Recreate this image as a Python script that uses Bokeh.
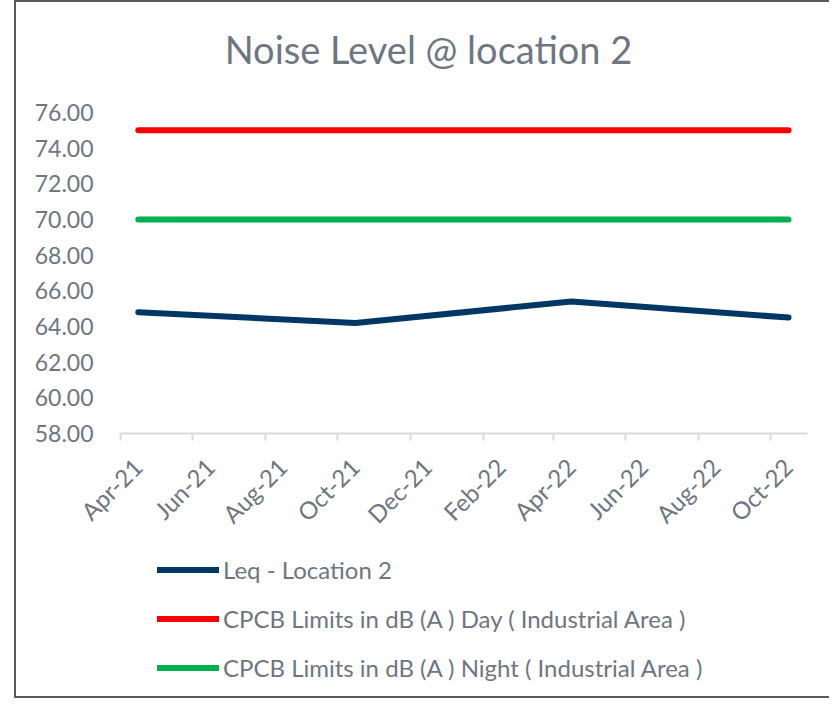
import math
import datetime as dt
from bokeh.plotting import figure
from bokeh.layouts import column
from bokeh.models import (Range1d, FixedTicker, Legend, LegendItem, Label,
                          NumeralTickFormatter, DatetimeAxis)
from bokeh.embed import file_html
from bokeh.resources import INLINE

# ---- data ----
dates = ["2021-04-16", "2021-10-16", "2022-04-16", "2022-10-16"]
leq = [64.8, 64.2, 65.4, 64.5]
day_limit = [75.0, 75.0, 75.0, 75.0]
night_limit = [70.0, 70.0, 70.0, 70.0]
series_names = ["Leq - Location 2",
                "CPCB Limits in dB (A ) Day ( Industrial Area )",
                "CPCB Limits in dB (A ) Night ( Industrial Area )"]
tick_dates = ["2021-04-01", "2021-06-01", "2021-08-01", "2021-10-01", "2021-12-01",
              "2022-02-01", "2022-04-01", "2022-06-01", "2022-08-01", "2022-10-01"]
tick_labels = ["Apr-21", "Jun-21", "Aug-21", "Oct-21", "Dec-21",
               "Feb-22", "Apr-22", "Jun-22", "Aug-22", "Oct-22"]
x_start, x_end = "2021-04-01", "2022-11-01"
y_ticks = [58, 60, 62, 64, 66, 68, 70, 72, 74, 76]
title_text = "Noise Level @ location 2"

FONT = "Lato"
TXT = "#6e7681"
COLORS = ["#003764", "#ff0000", "#00b050"]
LABEL_SHIFT_MS = 14.5 * 24 * 3600 * 1000.0  # rotated labels sit right of their tick
W = 813


def to_dt(s):
    return dt.datetime.strptime(s, "%Y-%m-%d")


def to_ms(s):
    return (to_dt(s) - dt.datetime(1970, 1, 1)).total_seconds() * 1000.0


def blank(height):
    f = figure(width=W, height=height, output_backend="svg", toolbar_location=None,
               x_range=Range1d(0, 1), y_range=Range1d(0, 1),
               x_axis_location=None, y_axis_location=None, min_border=0)
    f.outline_line_color = None
    f.grid.visible = False
    f.border_fill_color = "white"
    return f


xs = [to_dt(d) for d in dates]

# ---- title strip ----
p_top = blank(90)
p_top.add_layout(Label(x=308, y=44, x_units="screen", y_units="screen",
                       text=title_text, text_align="center", text_baseline="middle",
                       text_font=FONT, text_font_size="38px", text_color=TXT))

# ---- main chart ----
p = figure(width=W, height=450, x_axis_type="datetime",
           output_backend="svg", toolbar_location=None,
           x_range=Range1d(to_dt(x_start), to_dt(x_end)),
           y_range=Range1d(y_ticks[0], y_ticks[-1]),
           min_border_left=104, min_border_right=22,
           min_border_top=20, min_border_bottom=109)
p.outline_line_color = None
p.grid.visible = False
p.background_fill_color = "white"
p.border_fill_color = "white"

p.yaxis.ticker = FixedTicker(ticks=y_ticks)
p.yaxis.formatter = NumeralTickFormatter(format="0.00")
p.yaxis.axis_line_color = None
p.yaxis.major_tick_line_color = None
p.yaxis.minor_tick_line_color = None
p.yaxis.major_label_text_font = FONT
p.yaxis.major_label_text_font_size = "23px"
p.yaxis.major_label_text_color = TXT
p.yaxis.major_label_standoff = 21

tick_ms = [to_ms(d) for d in tick_dates]
p.xaxis.ticker = FixedTicker(ticks=tick_ms)
p.xaxis.major_label_overrides = {m: "" for m in tick_ms}
p.xaxis.axis_line_color = "#d9d9d9"
p.xaxis.axis_line_width = 2
p.xaxis.major_tick_line_color = "#d9d9d9"
p.xaxis.major_tick_line_width = 2
p.xaxis.major_tick_in = 0
p.xaxis.major_tick_out = 7
p.xaxis.minor_tick_line_color = None
p.xaxis.major_label_standoff = 0
p.xaxis.major_label_text_font_size = "1px"

lab_ms = [m + LABEL_SHIFT_MS for m in tick_ms]
lab_axis = DatetimeAxis(ticker=FixedTicker(ticks=lab_ms),
                        major_label_overrides={m: lab for m, lab in zip(lab_ms, tick_labels)},
                        axis_line_color=None, major_tick_line_color=None,
                        minor_tick_line_color=None,
                        major_label_orientation=math.pi / 4,
                        major_label_text_font=FONT,
                        major_label_text_font_size="24px",
                        major_label_text_color=TXT,
                        major_label_standoff=16)
p.add_layout(lab_axis, "below")

line_kw = dict(line_width=6, line_cap="round", line_join="round")
p.line(xs, leq, line_color=COLORS[0], **line_kw)
p.line(xs, day_limit, line_color=COLORS[1], **line_kw)
p.line(xs, night_limit, line_color=COLORS[2], **line_kw)

# ---- legend strip (legend handles are off-range placeholders) ----
p_bot = blank(154)
handles = [p_bot.line(x=[2, 3], y=[2, 2], line_color=c, **line_kw) for c in COLORS]
legend = Legend(items=[LegendItem(label=n, renderers=[h]) for n, h in zip(series_names, handles)],
                location=(37, 14), orientation="vertical",
                glyph_width=62, glyph_height=29, label_height=29,
                label_standoff=4, spacing=20, padding=0, margin=0,
                label_text_font=FONT, label_text_font_size="24px",
                label_text_color=TXT, border_line_color=None,
                background_fill_alpha=0)
p_bot.add_layout(legend, "center")

layout = column(p_top, p, p_bot, spacing=0)
layout.margin = (0, 0, 0, 14)
layout.styles = {"border": "2px solid #595959", "border-right": "none"}

open("out.html", "w").write(file_html(layout, INLINE))
